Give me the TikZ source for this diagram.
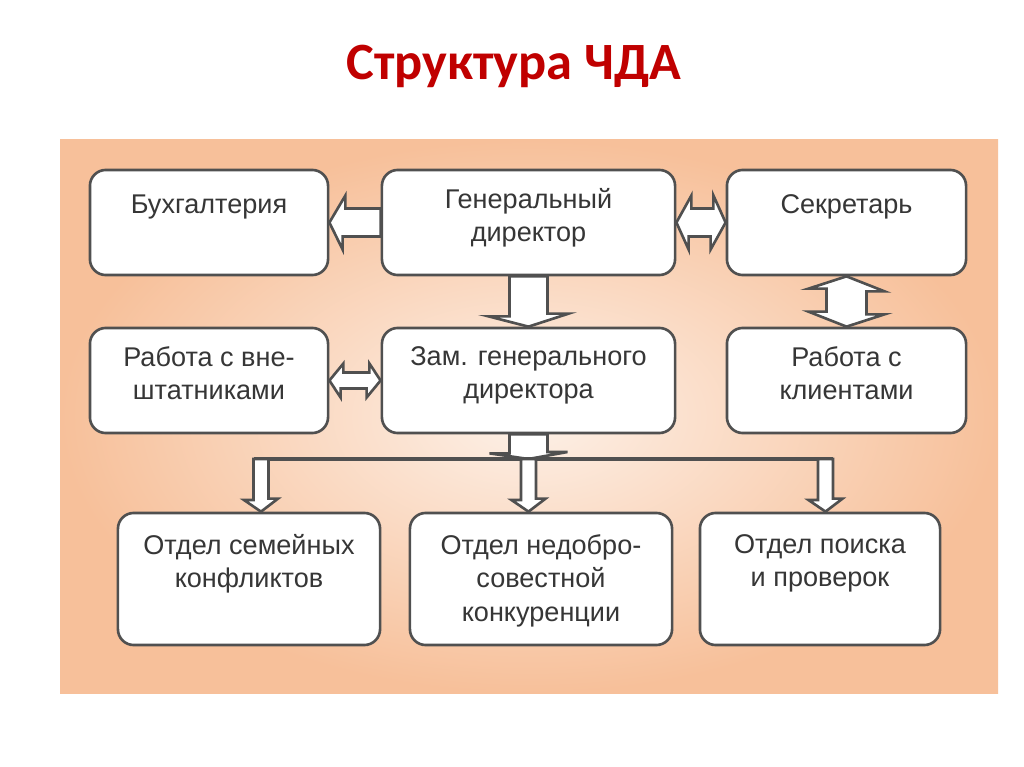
\documentclass[tikz,border=0pt]{standalone}
\usepackage{fontspec}
\setmainfont{Liberation Sans}
\newfontfamily\titlefont{Carlito}
\usetikzlibrary{calc}
\definecolor{titlered}{HTML}{C00000}
\definecolor{boxline}{HTML}{505050}
\definecolor{boxtext}{HTML}{363636}
\definecolor{panelin}{HTML}{FDF1E8}
\definecolor{panelout}{HTML}{F7C09A}

\begin{document}
\begin{tikzpicture}[x=0.01cm,y=-0.01cm]
  \tikzset{unit/.style = {draw=boxline, line width=0.75pt, fill=white, rounded corners=4.5pt, inner sep=0pt}}
  \tikzset{unittext/.style = {anchor=north, align=center, inner sep=0pt, text=boxtext, font=\fontsize{7.7}{9.5}\selectfont, execute at begin node=\rule{0pt}{7pt}}}
  \tikzset{blockarrow/.style = {draw=boxline, line width=0.75pt, fill=white}}
  \tikzset{busline/.style = {draw=boxline, line width=0.9pt}}

  \fill[white] (0,0) rectangle (1024,767);
  \shade[inner color=panelin, outer color=panelout] (60,140) rectangle (998,693);

  \node[anchor=base, text=titlered, font=\titlefont\bfseries\fontsize{14.9}{17}\selectfont] (title) at (514,80) {Структура ЧДА};

  % top row
  \node[unit, minimum width=2.38cm, minimum height=1.05cm] (buh) at (209,222.5) {};
  \node[unit, minimum width=2.93cm, minimum height=1.05cm] (gd) at (528.5,222.5) {};
  \node[unit, minimum width=2.39cm, minimum height=1.05cm] (sec) at (846.5,222.5) {};
  % middle row
  \node[unit, minimum width=2.38cm, minimum height=1.05cm] (vne) at (209,380.5) {};
  \node[unit, minimum width=2.93cm, minimum height=1.05cm] (zam) at (528.5,380.5) {};
  \node[unit, minimum width=2.39cm, minimum height=1.05cm] (cli) at (846.5,380.5) {};
  % departments
  \node[unit, minimum width=2.62cm, minimum height=1.32cm] (sem) at (249,579) {};
  \node[unit, minimum width=2.62cm, minimum height=1.32cm] (ned) at (541,579) {};
  \node[unit, minimum width=2.40cm, minimum height=1.32cm] (poi) at (820,579) {};

  \node[unittext] (buhtext) at ($(buh.north)+(0,20)$) {Бухгалтерия};
  \node[unittext] (gdtext) at ($(gd.north)+(0,19)$) {Генеральный\\директор};
  \node[unittext] (sectext) at ($(sec.north)+(0,20)$) {Секретарь};
  \node[unittext] (vnetext) at ($(vne.north)+(0,19)$) {Работа с вне-\\штатниками};
  \node[unittext] (zamtext) at ($(zam.north)+(0,19)$) {Зам. генерального\\директора};
  \node[unittext] (clitext) at ($(cli.north)+(0,19)$) {Работа с\\клиентами};
  \node[unittext] (semtext) at ($(sem.north)+(0,22)$) {Отдел семейных\\конфликтов};
  \node[unittext] (nedtext) at ($(ned.north)+(0,22)$) {Отдел недобро-\\совестной\\конкуренции};
  \node[unittext] (poitext) at ($(poi.north)+(0,22)$) {Отдел поиска\\и проверок};

  % block arrows
  \draw[blockarrow] (buh.east) -- ++(16,-27) -- ++(0,13) -- ($(gd.west)+(0,-14)$) -- ($(gd.west)+(0,14)$) -- ++(-38,0) -- ++(0,13) -- cycle;
  \draw[blockarrow] (gd.east) -- ++(15,-27) -- ++(0,13) -- ++(22,0) -- ++(0,-13) -- (sec.west) -- ++(-15,27) -- ++(0,-13) -- ++(-22,0) -- ++(0,13) -- cycle;
  \draw[blockarrow] ($(gd.south)+(-19,0)$) -- ++(0,40) -- ++(-21,0) -- (zam.north) -- ++(40,-13) -- ++(-21,0) -- ($(gd.south)+(19,0)$) -- cycle;
  \draw[blockarrow] (sec.south) -- ++(38,15) -- ++(-18,0) -- ++(0,23) -- ++(18,0) -- (cli.north) -- ++(-38,-15) -- ++(18,0) -- ++(0,-23) -- ++(-18,0) -- cycle;
  \draw[blockarrow] (vne.east) -- ++(14,-17) -- ++(0,9) -- ++(26,0) -- ++(0,-9) -- (zam.west) -- ++(-14,17) -- ++(0,-9) -- ++(-26,0) -- ++(0,9) -- cycle;

  \coordinate (busL) at (253.5,459);
  \coordinate (busR) at (832.5,459);
  \draw[blockarrow] ($(zam.south)+(-19,0)$) -- ++(0,19) -- ++(-20,0) -- (zam.south |- busL) -- ++(39,-7) -- ++(-20,0) -- ($(zam.south)+(19,0)$) -- cycle;
  \draw[busline] (busL) -- (busR);

  \foreach \dept/\xx in {sem/261, ned/528.5, poi/825.5}
  {
    \coordinate (top) at (\xx,459);
    \draw[blockarrow] ($(top)+(-7.5,0)$) -- ++(0,41) -- ++(-9.5,0) -- (top |- \dept.north) -- ++(17,-13) -- ++(-9.5,0) -- ($(top)+(7.5,0)$) -- cycle;
  }

\end{tikzpicture}
\end{document}
